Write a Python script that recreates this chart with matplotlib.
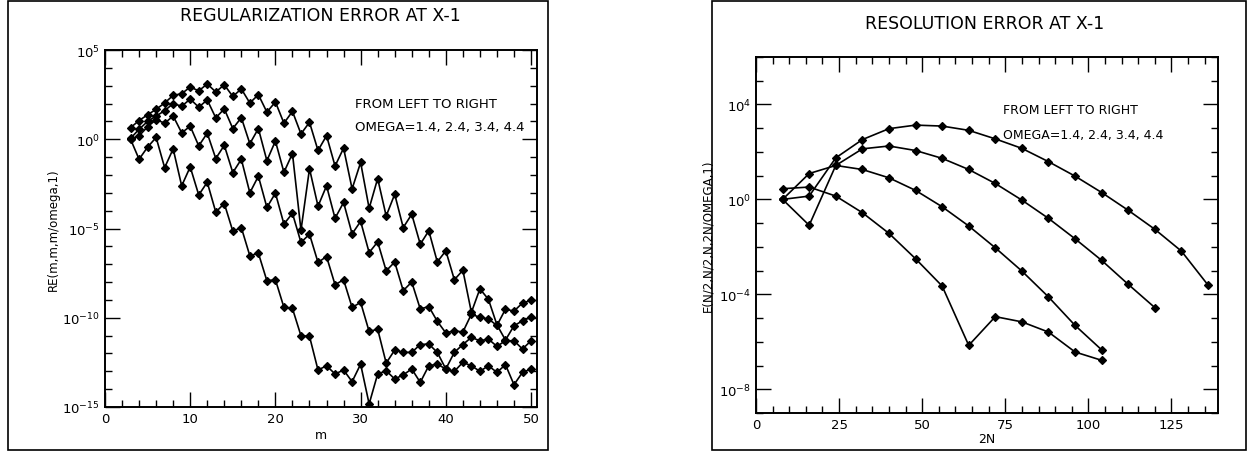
import matplotlib
matplotlib.use("Agg")
import matplotlib.pyplot as plt
import matplotlib.ticker as mticker
from matplotlib.patches import Rectangle
import numpy as np

# ---------------- data (log10 of the error) ----------------
m_vals = list(range(3, 51))

reg_om14 = [0.0, -1.12, -0.44, 0.1, -1.59, -0.54, -2.61, -1.55, -3.12, -2.41, -4.08, -3.6,
            -5.15, -4.95, -6.53, -6.38, -7.93, -7.87, -9.42, -9.48, -11.01, -11.04, -12.93, -12.69,
            -13.15, -12.93, -13.58, -12.6, -14.83, -13.15, -12.97, -13.43, -13.2, -12.87, -13.62, -12.69,
            -12.6, -12.87, -13.0, -12.5, -12.69, -13.0, -12.69, -13.06, -12.63, -13.75, -13.06, -12.87]
reg_om24 = [0.0, 0.19, 0.7, 1.1, 0.9, 1.3, 0.36, 0.73, -0.37, 0.34, -1.08, -0.34,
            -1.87, -1.12, -3.0, -2.07, -3.82, -3.02, -4.75, -4.15, -5.78, -5.32, -6.9, -6.57,
            -8.15, -7.87, -9.42, -9.14, -10.77, -10.64, -12.54, -11.81, -11.94, -11.94, -11.5, -11.47,
            -11.94, -12.87, -11.94, -11.5, -11.1, -11.29, -11.2, -11.6, -11.29, -11.29, -11.75, -11.29]
reg_om34 = [0.05, 0.56, 1.0, 1.3, 1.6, 2.0, 1.85, 2.25, 1.8, 2.2, 1.2, 1.7,
            0.6, 1.21, -0.25, 0.6, -1.2, -0.1, -1.85, -0.8, -5.1, -1.65, -3.75, -2.61,
            -4.43, -3.54, -5.3, -4.6, -6.35, -5.75, -7.37, -6.88, -8.48, -8.0, -9.51, -9.37,
            -10.2, -10.85, -10.73, -10.8, -9.8, -9.98, -10.07, -10.43, -9.52, -9.63, -9.17, -9.03]
reg_om44 = [0.65, 1.05, 1.37, 1.68, 2.03, 2.46, 2.55, 2.93, 2.71, 3.1, 2.65, 3.05,
            2.4, 2.82, 2.03, 2.5, 1.52, 2.09, 0.9, 1.56, 0.3, 0.95, -0.63, 0.2,
            -1.5, -0.5, -2.78, -1.3, -3.87, -2.2, -4.3, -3.08, -4.95, -4.2, -5.88, -5.13,
            -6.87, -6.25, -7.87, -7.34, -9.7, -8.38, -8.97, -10.4, -11.25, -10.45, -10.17, -9.97]

n2_vals = [8, 16, 24, 32, 40, 48, 56, 64, 72, 80, 88, 96, 104, 112, 120, 128, 136]
res_om14 = [0.45, 0.52, 0.14, -0.56, -1.43, -2.5, -3.65, -6.15, -4.94, -5.16, -5.59, -6.43, -6.78]
res_om24 = [0.0, 1.09, 1.43, 1.26, 0.91, 0.38, -0.31, -1.12, -2.04, -3.02, -4.11, -5.31, -6.34]
res_om34 = [0.0, -1.09, 1.43, 2.13, 2.25, 2.06, 1.73, 1.26, 0.67, -0.03, -0.8, -1.66, -2.57,
            -3.58, -4.56]
res_om44 = [0.0, 0.14, 1.75, 2.52, 2.98, 3.13, 3.09, 2.91, 2.55, 2.15, 1.59, 0.98, 0.29,
            -0.46, -1.26, -2.18, -3.61]

left_title = "REGULARIZATION ERROR AT X-1"
right_title = "RESOLUTION ERROR AT X-1"
note1 = "FROM LEFT TO RIGHT"
note2 = "OMEGA=1.4, 2.4, 3.4, 4.4"

# ---------------- figure ----------------
W, H = 1257, 456
fig = plt.figure(figsize=(W / 100, H / 100), dpi=100)
plt.rcParams['font.family'] = ['DejaVu Sans']

def fx(px):
    return px / W

def fy(py):
    return 1 - py / H

# page frames
fig.patches.append(Rectangle((fx(8), fy(451)), fx(548) - fx(8), fy(2) - fy(451),
                             transform=fig.transFigure, fill=False, lw=1.2, color='black'))
fig.patches.append(Rectangle((fx(712), fy(451)), fx(1246) - fx(712), fy(2) - fy(451),
                             transform=fig.transFigure, fill=False, lw=1.2, color='black'))

ax1 = fig.add_axes([fx(105), fy(408), fx(537) - fx(105), fy(51) - fy(408)])
ax2 = fig.add_axes([fx(756), fy(414), fx(1218) - fx(756), fy(58) - fy(414)])

style = dict(color='black', lw=1.2, marker='D', ms=4.0, mfc='black', mec='black', mew=0.9)

for ys in (reg_om14, reg_om24, reg_om34, reg_om44):
    ax1.plot(m_vals[:len(ys)], [10.0 ** v for v in ys], **style)
for ys in (res_om14, res_om24, res_om34, res_om44):
    ax2.plot(n2_vals[:len(ys)], [10.0 ** v for v in ys], **style)

def setup(ax, xlim, ylim, xmaj, xmin, ymaj_exps, ylabel, xlabel):
    ax.set_yscale('log')
    ax.set_xlim(*xlim)
    ax.set_ylim(*ylim)
    ax.xaxis.set_major_locator(mticker.MultipleLocator(xmaj))
    ax.xaxis.set_minor_locator(mticker.MultipleLocator(xmin))
    ax.yaxis.set_major_locator(mticker.FixedLocator([10.0 ** e for e in ymaj_exps]))
    lo, hi = int(np.log10(ylim[0])), int(np.log10(ylim[1]))
    ax.yaxis.set_minor_locator(mticker.FixedLocator([10.0 ** e for e in range(lo, hi + 1)]))
    ax.yaxis.set_minor_formatter(mticker.NullFormatter())
    ax.yaxis.set_major_formatter(mticker.FuncFormatter(
        lambda v, p: r'$10^{%d}$' % int(round(np.log10(v)))))
    ax.tick_params(which='both', direction='in', top=True, right=True, labelsize=9.5,
                   width=1.0, color='black')
    ax.tick_params(which='major', length=11)
    ax.tick_params(which='minor', length=5)
    for s in ax.spines.values():
        s.set_linewidth(1.4)
    ax.set_ylabel(ylabel, fontsize=8.5)
    ax.set_xlabel(xlabel, fontsize=9)

setup(ax1, (0, 50.7), (1e-15, 1e5), 10, 2, [5, 0, -5, -10, -15],
      'RE(m,m,m/omega,1)', 'm')
setup(ax2, (0, 139), (1e-9, 1e6), 25, 5, [4, 0, -4, -8],
      'E(N/2,N/2,N,2N/OMEGA,1)', '2N')
ax1.xaxis.labelpad = 2
ax2.xaxis.labelpad = 1
ax1.yaxis.labelpad = 2
ax2.yaxis.labelpad = 3

fig.text(fx(320), fy(16), left_title, ha='center', va='center', fontsize=12.5)
fig.text(fx(985), fy(24), right_title, ha='center', va='center', fontsize=12.5)

ax1.text(0.579, 0.85, note1, transform=ax1.transAxes, fontsize=9.5, va='center')
ax1.text(0.579, 0.785, note2, transform=ax1.transAxes, fontsize=9.5, va='center')
ax2.text(0.535, 0.853, note1, transform=ax2.transAxes, fontsize=9, va='center')
ax2.text(0.535, 0.783, note2, transform=ax2.transAxes, fontsize=9, va='center')

fig.savefig('out.png', dpi=100)
